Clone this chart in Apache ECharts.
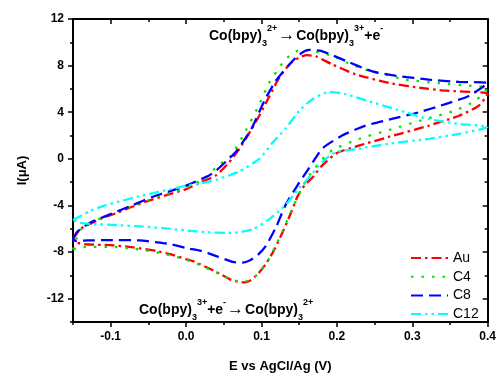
<!DOCTYPE html>
<html>
<head>
<meta charset="utf-8">
<script src="https://cdn.jsdelivr.net/npm/echarts@6/dist/echarts.min.js"></script>
<style>html,body{margin:0;padding:0;background:#fff;}#c{width:499px;height:378px;}</style>
</head>
<body>
<div id="c"></div>
<script>
// ---- data (E in V, I in µA), each loop: forward scan then reverse scan ----
const seriesNames = ['Au', 'C4', 'C8', 'C12'];
const seriesColors = ['#ff0000', '#00e600', '#0000ff', '#00ffff'];

const auLoop = [
  [-0.15,-6.9],[-0.14,-6.0],[-0.125,-5.5],[-0.11,-5.05],[-0.09,-4.6],[-0.075,-4.2],[-0.05,-3.6],[-0.025,-3.1],
  [0.0,-2.6],[0.02,-2.0],[0.04,-1.4],[0.057,-0.3],[0.07,0.8],[0.08,1.8],[0.097,3.7],[0.11,5.3],[0.123,6.9],
  [0.137,8.1],[0.15,8.7],[0.16,8.9],[0.172,8.8],[0.194,8.1],[0.225,7.25],[0.27,6.5],[0.31,6.1],[0.345,5.85],
  [0.39,5.7],[0.4,5.6],
  [0.388,4.55],[0.362,3.7],[0.322,2.85],[0.27,1.9],[0.23,1.15],[0.2,0.5],[0.18,-0.6],[0.167,-1.65],[0.158,-2.2],
  [0.148,-3.2],[0.14,-4.5],[0.128,-6.3],[0.117,-7.8],[0.106,-9.0],[0.095,-9.9],[0.085,-10.45],[0.077,-10.6],
  [0.065,-10.5],[0.057,-10.3],[0.04,-9.7],[0.027,-9.3],[0.01,-8.8],[0.0,-8.6],[-0.02,-8.2],[-0.04,-7.9],
  [-0.07,-7.6],[-0.1,-7.4],[-0.13,-7.35],[-0.145,-7.2],[-0.15,-6.9]
];
const c4Loop = [
  [-0.15,-7.8],[-0.145,-6.8],[-0.14,-6.1],[-0.13,-5.6],[-0.11,-5.0],[-0.09,-4.5],[-0.07,-4.0],[-0.05,-3.55],
  [-0.035,-3.2],[0.0,-2.5],[0.026,-1.6],[0.042,-0.6],[0.06,0.3],[0.079,2.4],[0.095,4.4],[0.11,6.5],[0.12,7.5],
  [0.13,8.4],[0.14,9.0],[0.152,9.35],[0.165,9.3],[0.194,8.85],[0.215,8.2],[0.238,7.65],[0.265,7.2],[0.291,6.8],
  [0.335,6.5],[0.38,6.25],[0.4,6.1],
  [0.384,5.0],[0.357,4.15],[0.317,3.4],[0.273,2.55],[0.229,1.7],[0.194,0.75],[0.18,-0.1],[0.167,-1.1],[0.158,-2.0],
  [0.15,-3.0],[0.14,-4.4],[0.128,-6.2],[0.117,-7.7],[0.106,-9.0],[0.095,-9.9],[0.085,-10.4],[0.075,-10.55],
  [0.06,-10.35],[0.04,-9.75],[0.02,-9.15],[0.0,-8.65],[-0.02,-8.3],[-0.045,-7.95],[-0.07,-7.7],[-0.1,-7.55],
  [-0.13,-7.55],[-0.145,-7.65],[-0.15,-7.8]
];
const c8Loop = [
  [-0.15,-6.9],[-0.145,-6.3],[-0.128,-5.5],[-0.11,-5.0],[-0.097,-4.65],[-0.07,-3.95],[-0.044,-3.25],[-0.02,-2.75],
  [0.0,-2.3],[0.013,-1.95],[0.031,-1.4],[0.04,-1.0],[0.055,-0.1],[0.066,0.6],[0.086,2.5],[0.104,5.0],[0.119,6.7],
  [0.137,8.1],[0.15,8.95],[0.163,9.35],[0.18,9.25],[0.212,8.4],[0.247,7.5],[0.282,7.1],[0.322,6.8],[0.362,6.6],
  [0.4,6.5],
  [0.375,5.4],[0.344,4.7],[0.309,4.0],[0.273,3.42],[0.238,2.85],[0.207,2.0],[0.181,0.9],[0.163,-0.8],[0.148,-2.25],
  [0.132,-3.95],[0.119,-5.9],[0.106,-7.45],[0.095,-8.25],[0.085,-8.7],[0.075,-8.9],[0.062,-8.85],[0.04,-8.35],
  [0.02,-7.9],[0.0,-7.65],[-0.022,-7.3],[-0.04,-7.15],[-0.062,-7.0],[-0.1,-6.97],[-0.13,-7.0],[-0.146,-7.05],
  [-0.15,-6.9]
];
const c12Loop = [
  [-0.15,-5.25],[-0.128,-4.5],[-0.11,-4.05],[-0.088,-3.65],[-0.065,-3.25],[-0.044,-2.95],[-0.02,-2.6],[0.0,-2.3],
  [0.02,-2.1],[0.04,-1.8],[0.07,-1.1],[0.097,0.0],[0.115,1.4],[0.132,2.6],[0.15,4.1],[0.167,5.1],[0.19,5.75],
  [0.212,5.55],[0.247,4.85],[0.291,4.0],[0.322,3.4],[0.362,3.0],[0.4,2.75],
  [0.392,2.55],[0.362,2.15],[0.322,1.72],[0.269,1.3],[0.229,0.87],[0.198,0.55],[0.181,-0.25],[0.159,-1.9],
  [0.15,-2.5],[0.132,-3.95],[0.11,-5.2],[0.088,-6.05],[0.07,-6.3],[0.053,-6.35],[0.026,-6.3],[0.009,-6.2],
  [-0.031,-5.95],[-0.06,-5.8],[-0.088,-5.7],[-0.128,-5.58],[-0.14,-5.5],[-0.15,-5.25]
];
const loops = [auLoop, c4Loop, c8Loop, c12Loop];

const xMin = -0.15, xMax = 0.4, xMinorStep = 0.05;
const xMajorTicks = [-0.1, 0.0, 0.1, 0.2, 0.3, 0.4];
const yMin = -14, yMax = 12, yMinorStep = 2;
const yMajorTicks = [-12, -8, -4, 0, 4, 8, 12];

// ---- styles ----
const FONT = '"Liberation Sans", Arial, sans-serif';
const dashTypes = [[10,4,2.5,4],[2.5,8],[12,6],[10,4,2.5,4,2.5,4]];
const axisLineStyle = {color:'#000', width:2};

function xAxisDef(pos, major, inside, withLabel){
  return {
    type:'value', position:pos, min:xMin, max:xMax, gridIndex:0,
    interval: major ? undefined : xMinorStep,
    axisLine:{show:major, onZero:false, lineStyle:axisLineStyle},
    axisTick:{show:true, inside:inside, length: major?5:3, lineStyle:{color:'#000', width:1.5},
      customValues: major ? xMajorTicks : undefined},
    axisLabel:{show:withLabel, customValues: major ? xMajorTicks : undefined,
      formatter:v=>Number(v).toFixed(1), color:'#000', fontWeight:'bold', fontSize:12, fontFamily:FONT, margin:9},
    splitLine:{show:false}
  };
}
function yAxisDef(pos, major, inside, withLabel){
  return {
    type:'value', position:pos, min:yMin, max:yMax, gridIndex:0,
    interval: major ? undefined : yMinorStep,
    axisLine:{show:major, onZero:false, lineStyle:axisLineStyle},
    axisTick:{show:true, inside:inside, length: major?5:3, lineStyle:{color:'#000', width:1.5},
      customValues: major ? yMajorTicks : undefined},
    axisLabel:{show:withLabel, customValues: major ? yMajorTicks : undefined,
      formatter:v=>String(v), color:'#000', fontWeight:'bold', fontSize:12, fontFamily:FONT, margin:9},
    splitLine:{show:false}
  };
}

const xMain = xAxisDef('bottom', true, false, true);
xMain.name = 'E vs AgCl/Ag (V)';
xMain.nameLocation = 'middle';
xMain.nameGap = 38;
xMain.nameTextStyle = {color:'#000', fontWeight:'bold', fontSize:13, fontFamily:FONT};
const yMain = yAxisDef('left', true, false, true);
yMain.name = 'I(μA)';
yMain.nameLocation = 'middle';
yMain.nameGap = 44;
yMain.nameTextStyle = {color:'#000', fontWeight:'bold', fontSize:13, fontFamily:FONT};

const richStyles = {
  m:{fontSize:14, fontWeight:'bold', fontFamily:FONT, color:'#000', lineHeight:24, verticalAlign:'middle'},
  a:{fontSize:17, fontFamily:FONT, color:'#000', lineHeight:24, verticalAlign:'middle', padding:[0,1,2,1]},
  sb:{fontSize:9, fontWeight:'bold', fontFamily:FONT, color:'#000', lineHeight:11, verticalAlign:'bottom'},
  sp:{fontSize:9, fontWeight:'bold', fontFamily:FONT, color:'#000', lineHeight:11, verticalAlign:'top'}
};

const option = {
  animation:false,
  backgroundColor:'#fff',
  grid:{left:73, right:11, top:19, bottom:52.5, containLabel:false},
  legend:{
    orient:'vertical', left:405, top:246, itemWidth:37, itemHeight:14, itemGap:4.7,
    data:seriesNames,
    itemStyle:{opacity:0},
    textStyle:{fontSize:14, fontFamily:FONT, color:'#000'}
  },
  xAxis:[xMain, xAxisDef('bottom', false, false, false), xAxisDef('top', true, true, false), xAxisDef('top', false, true, false)],
  yAxis:[yMain, yAxisDef('left', false, false, false), yAxisDef('right', true, true, false), yAxisDef('right', false, true, false)],
  graphic:[
    {type:'text', left:209, top:24, style:{
      text:'{m|Co(bpy)}{sb|3}{sp|2+}{a|→}{m|Co(bpy)}{sb|3}{sp|3+}{m|+e}{sp|-}', rich:richStyles}},
    {type:'text', left:139, top:298, style:{
      text:'{m|Co(bpy)}{sb|3}{sp|3+}{m|+e}{sp|-}{a|→}{m|Co(bpy)}{sb|3}{sp|2+}', rich:richStyles}}
  ],
  series: seriesNames.map((name,i)=>({
    name:name, type:'line', xAxisIndex:0, yAxisIndex:0,
    data:loops[i], showSymbol:false, symbol:'none', smooth:0.2,
    color:seriesColors[i],
    lineStyle:{color:seriesColors[i], width:2.3, type:dashTypes[i]}
  }))
};

const chart = echarts.init(document.getElementById('c'), null, {renderer:'canvas'});
chart.setOption(option);
</script>
</body>
</html>
